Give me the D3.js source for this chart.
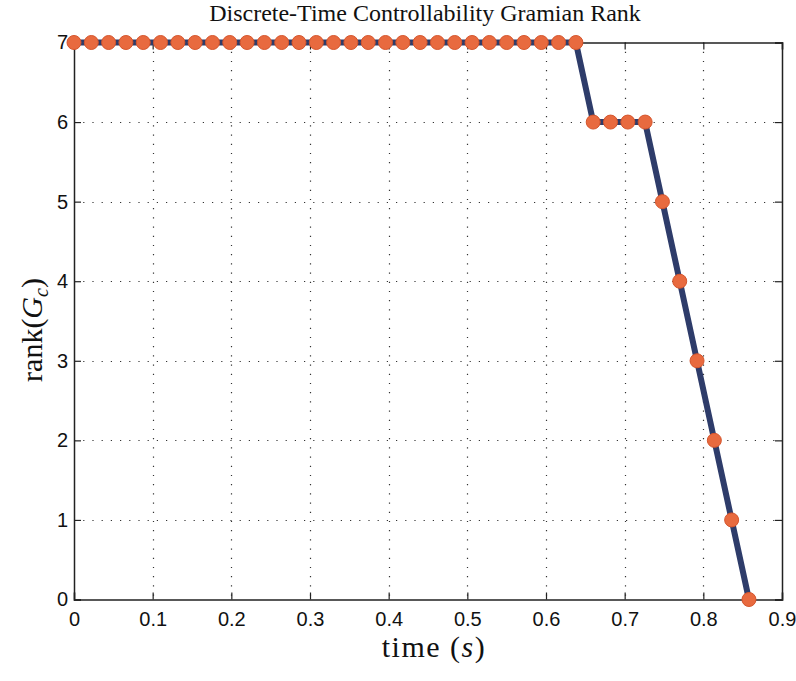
<!DOCTYPE html>
<html>
<head>
<meta charset="utf-8">
<script src="https://cdn.jsdelivr.net/npm/d3@7"></script>
<style>
  html, body { margin: 0; padding: 0; background: #fff; }
  svg { display: block; }
</style>
</head>
<body>
<svg id="chart" width="796" height="681"></svg>
<script>
// Sample times (s) and Gramian rank at each sample
const sampleStep = 0.022;
const rankValues = [
  7,7,7,7,7,7,7,7,7,7,
  7,7,7,7,7,7,7,7,7,7,
  7,7,7,7,7,7,7,7,7,7,
  6,6,6,6,
  5,4,3,2,1,0
];
const times = rankValues.map((_, i) => +(i * sampleStep).toFixed(3));
const xTicks = [0, 0.1, 0.2, 0.3, 0.4, 0.5, 0.6, 0.7, 0.8, 0.9];
const yTicks = [0, 1, 2, 3, 4, 5, 6, 7];

const svg = d3.select("#chart");
const m = { left: 74, right: 782, top: 42.5, bottom: 599.5 };

const x = d3.scaleLinear().domain([0, 0.9]).range([m.left, m.right]);
const y = d3.scaleLinear().domain([0, 7]).range([m.bottom, m.top]);

const tickFont = "'Liberation Sans', Arial, Helvetica, sans-serif";
const serif = "'Liberation Serif', 'Times New Roman', serif";

// dotted grid
const grid = svg.append("g").attr("stroke", "#333").attr("stroke-width", 1.2)
  .attr("stroke-dasharray", "1.2,8");
grid.selectAll("line.gx").data(xTicks.slice(1, -1)).join("line")
  .attr("x1", d => Math.round(x(d)) + 0.5).attr("x2", d => Math.round(x(d)) + 0.5)
  .attr("y1", m.top).attr("y2", m.bottom);
grid.selectAll("line.gy").data(yTicks.slice(1, -1)).join("line")
  .attr("y1", d => Math.round(y(d)) + 0.5).attr("y2", d => Math.round(y(d)) + 0.5)
  .attr("x1", m.left).attr("x2", m.right);

// axes: ticks point inward, box closed on all four sides
const tickLen = 7;
const xAxisB = d3.axisBottom(x).tickValues(xTicks).tickSize(-tickLen).tickPadding(12)
  .tickFormat(d => d === 0 ? "0" : d3.format(".1f")(d));
const xAxisT = d3.axisTop(x).tickValues(xTicks).tickSize(-tickLen).tickFormat("");
const yAxisL = d3.axisLeft(y).tickValues(yTicks).tickSize(-tickLen).tickPadding(6)
  .tickFormat(d3.format("d"));
const yAxisR = d3.axisRight(y).tickValues(yTicks).tickSize(-tickLen).tickFormat("");

function styleAxis(g) {
  g.select(".domain").attr("stroke", "#222").attr("stroke-width", 1.5);
  g.selectAll(".tick line").attr("stroke", "#222").attr("stroke-width", 1.2);
  g.selectAll(".tick text").attr("fill", "#111")
    .style("font-family", tickFont).style("font-size", "20px");
}

svg.append("g").attr("transform", `translate(0,${m.bottom})`).call(xAxisB).call(styleAxis);
svg.append("g").attr("transform", `translate(0,${m.top})`).call(xAxisT).call(styleAxis);
svg.append("g").attr("transform", `translate(${m.left},0)`).call(yAxisL).call(styleAxis);
svg.append("g").attr("transform", `translate(${m.right},0)`).call(yAxisR).call(styleAxis);

// rank curve
const pts = times.map((t, i) => [t, rankValues[i]]);
const line = d3.line().x(d => x(d[0])).y(d => y(d[1]));
svg.append("path").datum(pts)
  .attr("d", line)
  .attr("fill", "none")
  .attr("stroke", "#2e3c6a")
  .attr("stroke-width", 6)
  .attr("stroke-linejoin", "round");

svg.append("g").selectAll("circle").data(pts).join("circle")
  .attr("cx", d => x(d[0])).attr("cy", d => y(d[1]))
  .attr("r", 7)
  .attr("fill", "#e86a3f")
  .attr("stroke", "#d5552c")
  .attr("stroke-width", 1);

// title
svg.append("text")
  .attr("x", 425).attr("y", 21)
  .attr("text-anchor", "middle")
  .style("font-family", serif).style("font-size", "24px").attr("fill", "#111")
  .text("Discrete-Time Controllability Gramian Rank");

// x label: time (s)
const xl = svg.append("text")
  .attr("x", 434).attr("y", 657)
  .attr("text-anchor", "middle")
  .style("font-family", serif).style("font-size", "30px")
  .style("letter-spacing", "1.5px").attr("fill", "#111");
xl.append("tspan").text("time (");
xl.append("tspan").style("font-style", "italic").text("s");
xl.append("tspan").text(")");

// y label: rank(G_c)
const yl = svg.append("text")
  .attr("transform", "translate(42,330) rotate(-90)")
  .attr("text-anchor", "middle")
  .style("font-family", serif).style("font-size", "30px").attr("fill", "#111");
yl.append("tspan").text("rank(");
yl.append("tspan").style("font-style", "italic").text("G");
yl.append("tspan").style("font-style", "italic").style("font-size", "20px").attr("dy", 6).text("c");
yl.append("tspan").attr("dy", -6).text(")");
</script>
</body>
</html>
